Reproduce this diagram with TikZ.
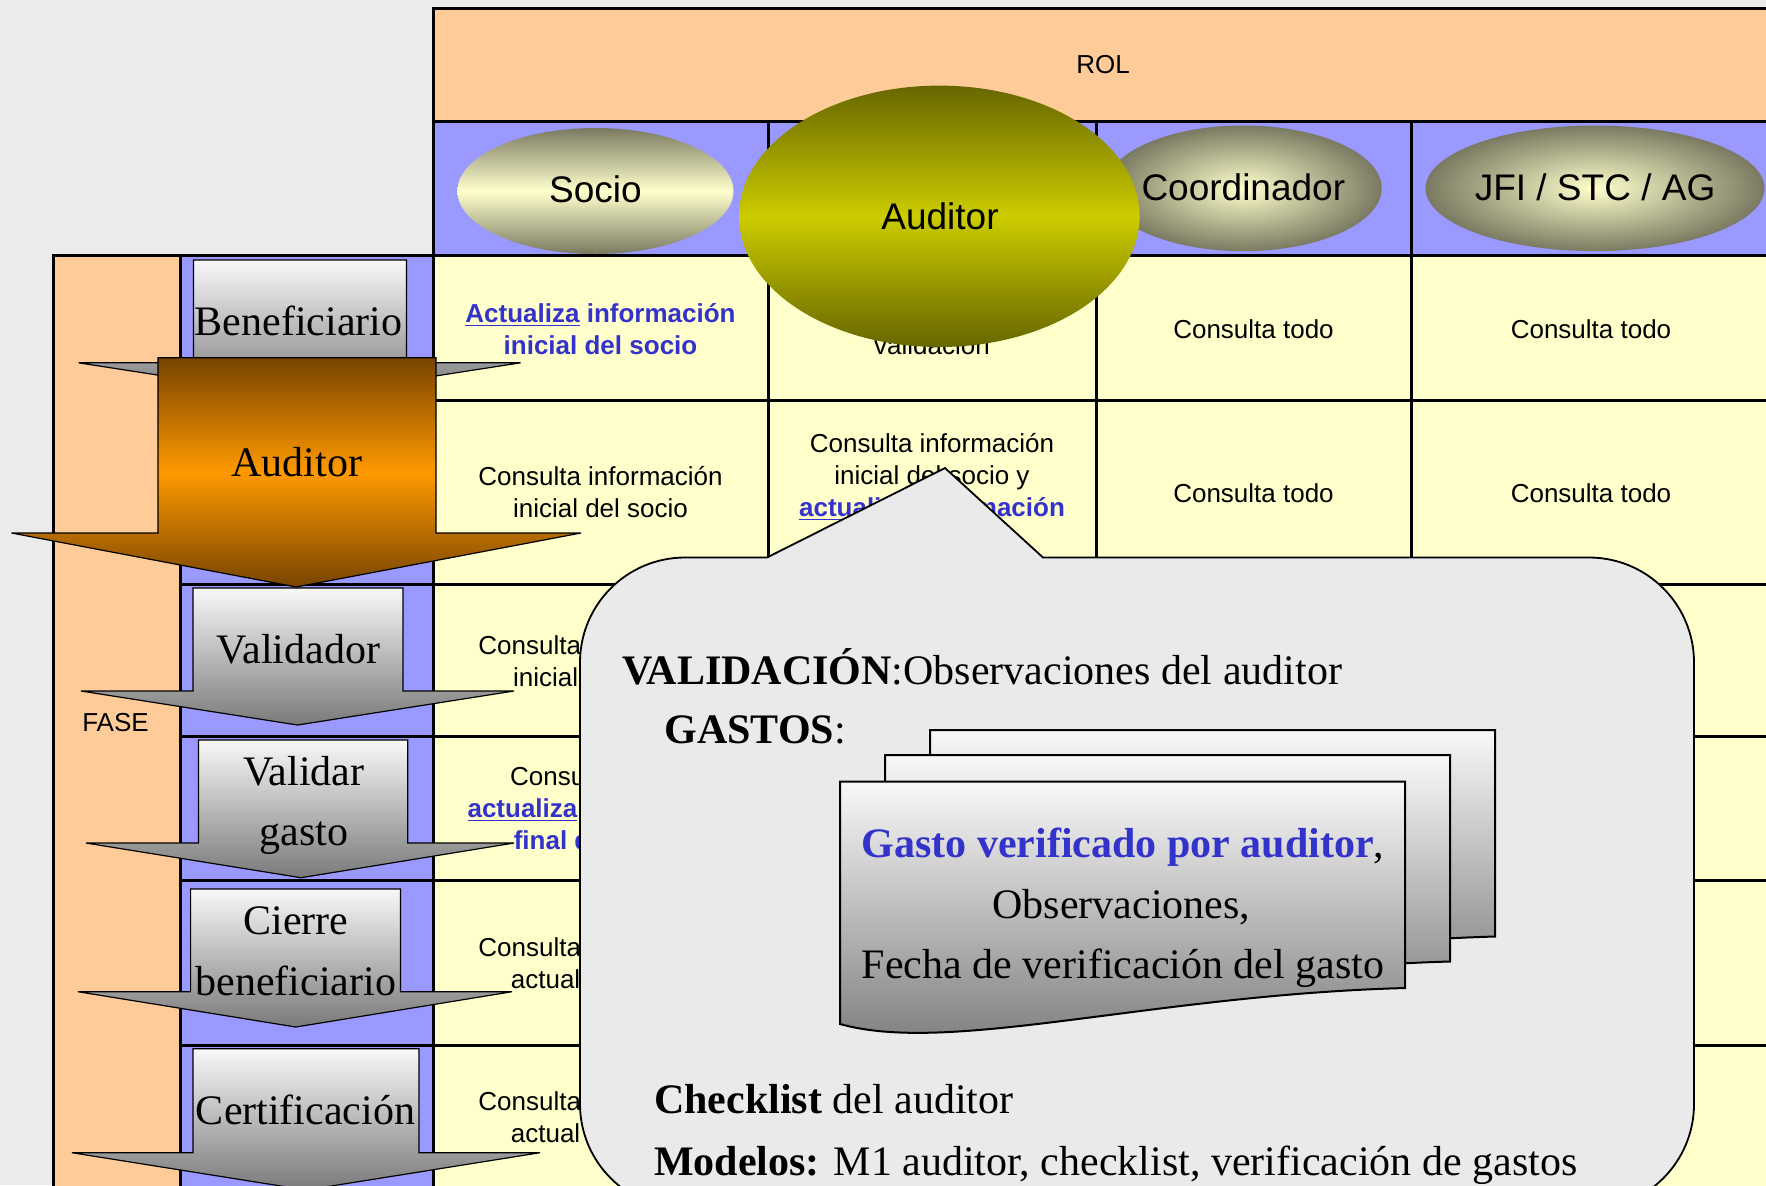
\documentclass[tikz,border=0pt]{standalone}
\usepackage{fontspec}
\setmainfont{Liberation Serif}
\setsansfont{Liberation Sans}
\definecolor{bgc}{HTML}{EBEBEB}
\definecolor{peach}{HTML}{FFCC99}
\definecolor{lav}{HTML}{9999FF}
\definecolor{cellyel}{HTML}{FFFFCC}
\definecolor{txtblue}{HTML}{3333CC}
\definecolor{oliveg}{HTML}{7A7A62}
\definecolor{cream}{HTML}{FFFFCC}
\definecolor{olivedk}{HTML}{666600}
\definecolor{oliveyl}{HTML}{CCCC00}
\definecolor{brownd}{HTML}{774400}
\definecolor{orng}{HTML}{FF9900}
\definecolor{grayhi}{HTML}{F8F8F8}
\definecolor{graylo}{HTML}{7A7A7A}
\definecolor{callfill}{HTML}{EAEAEA}
\begin{document}
\begin{tikzpicture}[x=0.5pt,y=-0.5pt,
  tline/.style={line width=1.5pt, draw=black},
  ctext/.style={font=\sffamily\fontsize{13}{16}\selectfont, align=center, inner sep=0pt},
  btext/.style={font=\sffamily\bfseries\fontsize{13}{16}\selectfont, align=center, inner sep=0pt, text=txtblue},
  hlabel/.style={font=\sffamily\fontsize{18.5}{22}\selectfont, inner sep=0pt},
  plabel/.style={font=\fontsize{21}{25}\selectfont, inner sep=0pt, anchor=base},
  clabel/.style={font=\fontsize{21}{25}\selectfont, inner sep=0pt, anchor=base west},
  grayarrow/.style={draw=black, line width=0.6pt, top color=grayhi, bottom color=graylo},
  orangearrow/.style={draw=black, line width=0.6pt, top color=brownd, bottom color=brownd, middle color=orng},
  docshape/.style={draw=black, line width=1pt, top color=grayhi, bottom color=graylo},
  callout/.style={draw=black, line width=0.9pt, fill=callfill}
]
\useasboundingbox (0,0) rectangle (1766,1185);
\clip (0,0) rectangle (1766,1185);
% background
\fill[bgc] (0,0) rectangle (1766,1185);
% table fills
\fill[peach] (433,8) rectangle (1800,121);
\fill[lav] (433,121) rectangle (1800,255.6);
\fill[cellyel] (433,255.6) rectangle (1800,1220);
\fill[peach] (53.4,255.6) rectangle (180,1220);
\fill[lav] (180,255.6) rectangle (433,1220);
% table lines
\draw[tline] (433,1220) -- (433,8) -- (1800,8);
\draw[tline] (433,121) -- (1800,121);
\draw[tline] (53.4,1220) -- (53.4,255.6) -- (1800,255.6);
\draw[tline] (180,255.6) -- (180,1220);
\foreach \yy in {400,584,736,880,1045} { \draw[tline] (180,\yy) -- (1800,\yy); }
\foreach \xx in {768,1096,1411} { \draw[tline] (\xx,121) -- (\xx,1220); }
% header texts
\node[ctext] (rol) at (1103,65) {ROL};
\node[ctext] (fase) at (115.5,722.6) {FASE};
% cell texts
\node[btext] (c11) at (600.5,329) {\underline{Actualiza} información\\inicial del socio};
\node[ctext] (c12) at (932,345) {validación};
\node[ctext] (c13) at (1253.5,329) {Consulta todo};
\node[ctext] (c14) at (1591,329) {Consulta todo};
\node[ctext] (c21) at (600.5,492) {Consulta información\\inicial del socio};
\node[ctext] (c22) at (932,477) {Consulta información\\inicial del socio y\\{\bfseries\color{txtblue}\underline{actualiza} información}};
\node[ctext] (c23) at (1253.5,493) {Consulta todo};
\node[ctext] (c24) at (1591,493) {Consulta todo};
\node[ctext] (c31) at (600.5,661) {Consulta información\\inicial del socio};
\node[ctext] (c41) at (600.5,808) {Consulta todo y\\{\bfseries\color{txtblue}\underline{actualiza} información}\\{\bfseries\color{txtblue}final del socio}};
\node[ctext] (c51) at (600.5,963) {Consulta información\\actual del socio};
\node[ctext] (c61) at (600.5,1117.5) {Consulta información\\actual del socio};
% header ellipses
\shade[top color=oliveg, bottom color=oliveg, middle color=cream] (595.4,191) ellipse [x radius=138, y radius=63];
\shade[inner color=cream, outer color=oliveg] (1243.3,188.3) ellipse [x radius=138.4, y radius=62.8];
\shade[inner color=cream, outer color=oliveg] (1595,188.3) ellipse [x radius=169.5, y radius=62.8];
\shade[top color=olivedk, bottom color=olivedk, middle color=oliveyl] (939.3,216.3) ellipse [x radius=200.3, y radius=130.7];
\node[hlabel] (hsocio) at (595.4,189.5) {Socio};
\node[hlabel] (hcoord) at (1243.3,187.5) {Coordinador};
\node[hlabel] (hjfi) at (1595,187.5) {JFI / STC / AG};
\node[hlabel] (haud) at (940,216.6) {Auditor};
% phase arrows
\draw[grayarrow] (193.4,260) -- (406.4,260) -- (406.4,362.8) -- (520.6,362.8) -- (299.6,397) -- (78.6,362.8) -- (193.4,362.8) -- cycle;
\node[plabel] (pben) at (298.6,335) {Beneficiario};
\draw[orangearrow] (157.9,357.8) -- (436,357.8) -- (436,533) -- (581,533) -- (296.2,587) -- (11.5,533) -- (157.9,533) -- cycle;
\node[plabel] (paud) at (296.8,476) {Auditor};
\draw[grayarrow] (193,588) -- (403,588) -- (403,691) -- (514,691) -- (297.5,725) -- (81,691) -- (193,691) -- cycle;
\node[plabel] (pval) at (298.5,663.6) {Validador};
\draw[grayarrow] (198.5,740) -- (407.7,740) -- (407.7,843) -- (514,843) -- (301,877.7) -- (86,843) -- (198.5,843) -- cycle;
\node[plabel] (pvg1) at (303.7,785) {Validar};
\node[plabel] (pvg2) at (303.7,845) {gasto};
\draw[grayarrow] (190.6,889) -- (400.5,889) -- (400.5,991.7) -- (512,991.7) -- (295.8,1027) -- (78,991.7) -- (190.6,991.7) -- cycle;
\node[plabel] (pcb1) at (295.8,934) {Cierre};
\node[plabel] (pcb2) at (295.8,995) {beneficiario};
\draw[grayarrow] (193,1048.7) -- (419,1048.7) -- (419,1152.7) -- (540,1152.7) -- (306,1190) -- (72,1152.7) -- (193,1152.7) -- cycle;
\node[plabel] (pcert) at (305.6,1124) {Certificación};
% callout
\draw[callout] (685,557.5) -- (767,557.5) -- (945,468) -- (1043,557.5) -- (1589,557.5)
  .. controls (1647,557.5) and (1694,604.5) .. (1694,662.5) -- (1694,1104)
  .. controls (1694,1162) and (1647,1209) .. (1589,1209) -- (685,1209)
  .. controls (627,1209) and (580,1162) .. (580,1104) -- (580,662.5)
  .. controls (580,604.5) and (627,557.5) .. (685,557.5) -- cycle;
\node[clabel] (lval) at (621.6,684) {\textbf{VALIDACIÓN}:Observaciones del auditor};
\node[clabel] (lgas) at (664,743.7) {\textbf{GASTOS}:};
% documents
\begin{scope}[shift={(90,-51.5)}]
\draw[docshape] (840,781.7) -- (1405,781.7) -- (1405,988) .. controls (1150,995) and (950,1055) .. (840,1024) -- cycle;
\end{scope}
\begin{scope}[shift={(45,-26.5)}]
\draw[docshape] (840,781.7) -- (1405,781.7) -- (1405,988) .. controls (1150,995) and (950,1055) .. (840,1024) -- cycle;
\end{scope}
\draw[docshape] (840,781.7) -- (1405,781.7) -- (1405,988) .. controls (1150,995) and (950,1055) .. (840,1024) -- cycle;
\node[plabel] (d1) at (1123,857) {{\bfseries\color{txtblue}Gasto verificado por auditor},};
\node[plabel] (d2) at (1121.5,918.6) {Observaciones,};
\node[plabel] (d3) at (1123,978) {Fecha de verificación del gasto};
\node[clabel] (lchk) at (653.7,1113) {\textbf{Checklist} del auditor};
\node[clabel] (lmod) at (653.7,1175) {\textbf{Modelos:} M1 auditor, checklist, verificación de gastos};
\end{tikzpicture}
\end{document}
